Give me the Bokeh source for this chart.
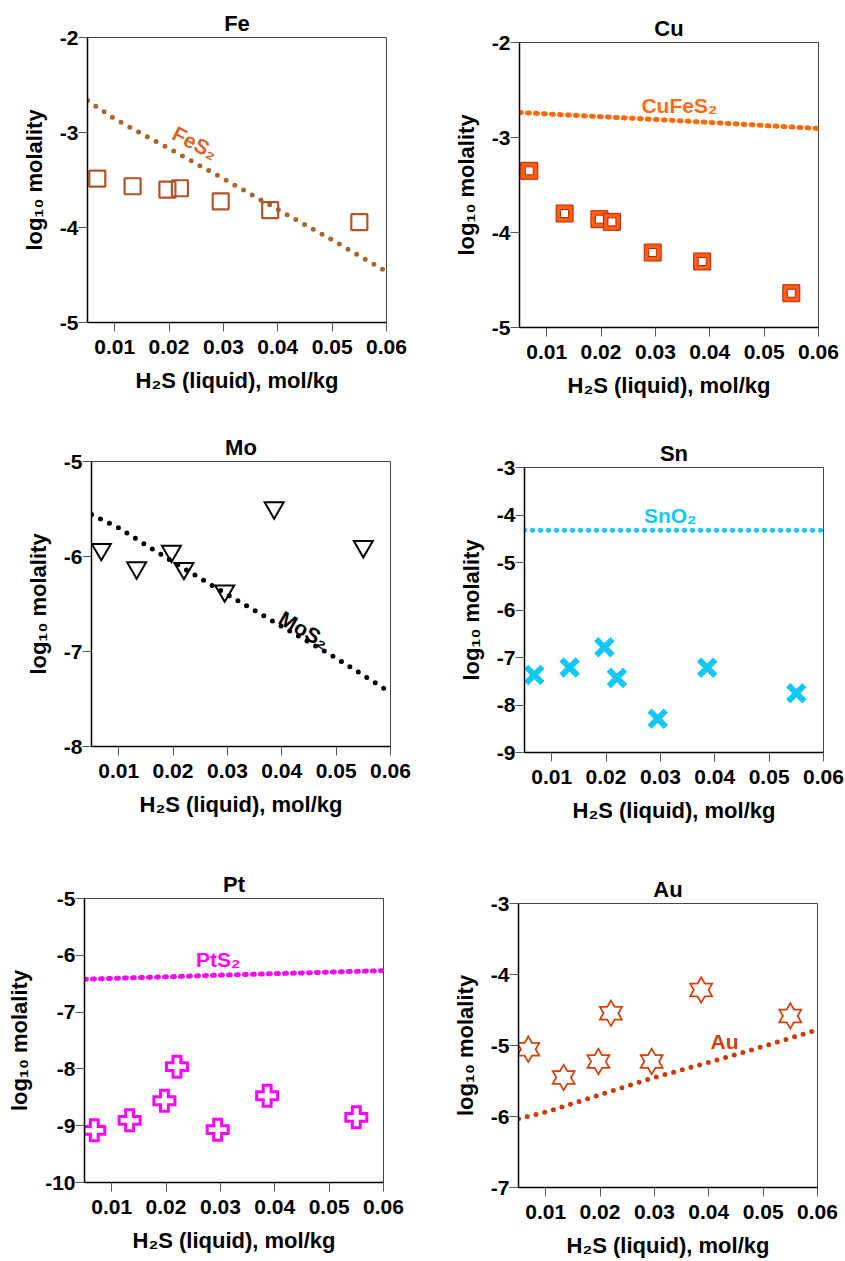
from bokeh.plotting import figure
from bokeh.layouts import column, row
from bokeh.models import FixedTicker, Range1d, Spacer
from bokeh.core.properties import value
from bokeh.embed import file_html
from bokeh.resources import INLINE

# ---------------- data ----------------
h2s = [0.0068, 0.0133, 0.0197, 0.0220, 0.0295, 0.0386, 0.0550]
fe = [-3.486, -3.566, -3.601, -3.587, -3.724, -3.818, -3.944]
cu = [-3.351, -3.800, -3.860, -3.888, -4.211, -4.305, -4.639]
mo = [-5.925, -6.119, -5.944, -6.125, -6.362, -5.487, -5.895]
sn = [-7.366, -7.211, -6.782, -7.429, -8.287, -7.218, -7.752]
pt = [-9.082, -8.906, -8.560, -7.961, -9.070, -8.472, -8.853]
au = [-5.052, -5.450, -5.225, -4.545, -5.225, -4.217, -4.583]

line_x = [0.005, 0.01, 0.02, 0.03, 0.04, 0.05, 0.06]
fes2 = [-2.664, -2.857, -3.168, -3.486, -3.810, -4.130, -4.465]
mos2 = [-5.558, -5.699, -6.057, -6.401, -6.735, -7.069, -7.431]
cufes2_x = [0.005, 0.03, 0.06]
cufes2 = [-2.737, -2.810, -2.905]
sno2_x = [0.005, 0.06]
sno2 = [-4.32, -4.32]
pts2_x = [0.005, 0.03, 0.06]
pts2 = [-6.423, -6.350, -6.270]
au_line_x = [0.005, 0.01, 0.02, 0.03, 0.04, 0.05, 0.0593]
au_line = [-6.030, -5.938, -5.694, -5.450, -5.239, -5.014, -4.794]

x_ticks = [0.01, 0.02, 0.03, 0.04, 0.05, 0.06]
x_tick_labels = ["0.01", "0.02", "0.03", "0.04", "0.05", "0.06"]

FONT = "Liberation Sans"


def make(title, yr, L, R, T, B, W, H):
    p = figure(width=W, height=H, x_range=Range1d(0.005, 0.06), y_range=Range1d(*yr),
               output_backend="svg", toolbar_location=None,
               min_border_left=L, min_border_right=R, min_border_top=T, min_border_bottom=B)
    p.title.text = title
    p.title.align = "center"
    p.title.text_font = FONT
    p.title.text_font_size = "22px"
    p.title.text_font_style = "bold"
    p.title.text_color = "black"
    p.title.standoff = 3
    p.xgrid.visible = False
    p.ygrid.visible = False
    p.outline_line_color = "#444444"
    p.outline_line_width = 1
    yt = list(range(yr[0], yr[1] + 1))
    p.yaxis.ticker = FixedTicker(ticks=yt)
    p.yaxis.major_label_overrides = {t: str(t) for t in yt}
    p.xaxis.ticker = FixedTicker(ticks=x_ticks)
    p.xaxis.major_label_overrides = dict(zip(x_ticks, x_tick_labels))
    p.xaxis.axis_label = "H₂S (liquid), mol/kg"
    p.yaxis.axis_label = "log₁₀ molality"
    for ax in (p.xaxis[0], p.yaxis[0]):
        ax.major_tick_out = 9
        ax.major_tick_in = 0
        ax.minor_tick_out = 0
        ax.minor_tick_in = 0
        ax.major_tick_line_color = "#555555"
        ax.axis_line_color = "black"
        ax.axis_line_width = 1.5
        ax.major_label_text_font = FONT
        ax.major_label_text_font_size = "21px"
        ax.major_label_text_font_style = "bold"
        ax.major_label_text_color = "black"
        ax.axis_label_text_font = FONT
        ax.axis_label_text_font_size = "22px"
        ax.axis_label_text_font_style = "bold"
        ax.axis_label_text_color = "black"
    p.xaxis.major_label_standoff = 8
    p.xaxis.axis_label_standoff = 11
    p.yaxis.major_label_standoff = 0
    p.yaxis.axis_label_standoff = 10
    return p


def dotted(p, x, y, color, dash="0 10", width=5):
    p.line(x, y, line_color=color, line_width=width, line_dash=dash, line_cap="round")


def label(p, x, y, txt, color, angle=0.0):
    p.text(x=[x], y=[y], text=[txt], angle=angle, text_align="center", text_baseline="middle",
           text_font=value(FONT), text_font_size="21px", text_font_style="bold", text_color=color)


# Fe
p1 = make("Fe", (-5, -2), 87, 42, 37, 100, 428, 422)
dotted(p1, line_x, fes2, "#A5672F", "0 10")
p1.scatter(h2s, fe, marker="square", size=16, fill_color=None, line_color="#B4532A", line_width=2.2)
label(p1, 0.0248, -3.11, "FeS₂", "#D9652B", -0.48)

# Cu
p2 = make("Cu", (-5, -2), 91, 27, 37, 95, 417, 417)
dotted(p2, cufes2_x, cufes2, "#FF6A10", "2 6", 5)
p2.scatter(h2s, cu, marker="square", size=17, fill_color="#FF5F0F", line_color="#C0200A", line_width=1)
p2.scatter(h2s, cu, marker="square", size=8, fill_color="white", line_color="#C0200A", line_width=1)
label(p2, 0.0344, -2.66, "CuFeS₂", "#FF6A10")

# Mo
p3 = make("Mo", (-8, -5), 91, 38, 39, 102, 428, 426)
dotted(p3, line_x, mos2, "black", "0 10")
p3.scatter(h2s, mo, marker="inverted_triangle", size=19, fill_color=None, line_color="black",
           line_width=2, line_join="miter")
label(p3, 0.0441, -6.77, "MoS₂", "black", -0.52)

# Sn
p4 = make("Sn", (-9, -3), 96, 22, 39, 96, 417, 420)
dotted(p4, sno2_x, sno2, "#10C8F4", "0 8")
p4.scatter(h2s, sn, marker="x", size=23, line_color="#10C8F4", line_width=6)
label(p4, 0.0318, -4.0, "SnO₂", "#10C8F4")

# Pt
p5 = make("Pt", (-10, -5), 84, 45, 50, 79, 428, 413)
dotted(p5, pts2_x, pts2, "#FF00FF", "2 6", 5)
p5.scatter(h2s, pt, marker="plus", size=21, fill_color="white", line_color="#FF00FF",
           line_width=3, line_join="miter")
label(p5, 0.0296, -6.08, "PtS₂", "#FF00FF")

# Au
p6 = make("Au", (-7, -3), 90, 28, 50, 74, 417, 408)
dotted(p6, au_line_x, au_line, "#CC3A08", "0 9")
AUC = "#D0400C"
for mk in ("triangle", "inverted_triangle"):
    p6.scatter(h2s, au, marker=mk, size=19, fill_color="white", line_color=AUC,
               line_width=3.5, line_join="miter")
for mk in ("triangle", "inverted_triangle"):
    p6.scatter(h2s, au, marker=mk, size=19, fill_color="white", line_color=None)
label(p6, 0.0429, -4.94, "Au", AUC)

layout = column(
    row(p1, column(Spacer(width=417, height=5), p2)),
    row(p3, column(Spacer(width=417, height=6), p4)),
    row(p5, column(Spacer(width=417, height=5), p6)),
)
open("out.html", "w").write(file_html(layout, INLINE))
